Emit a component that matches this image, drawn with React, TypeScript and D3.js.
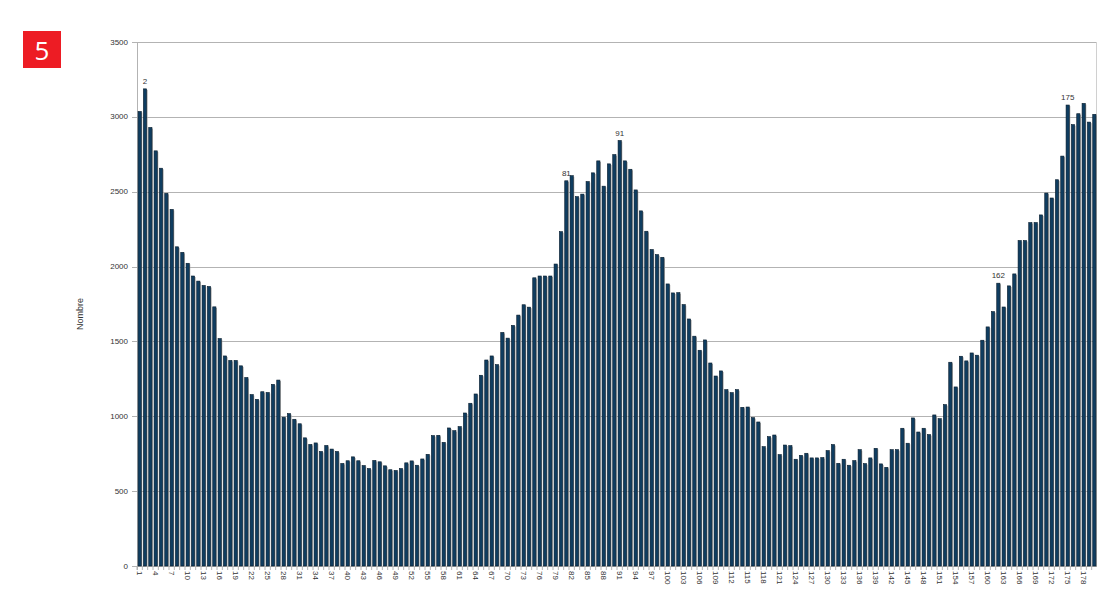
import React from "react";
import * as d3 from "d3";

const values: number[] = [
  3036, 3187, 2929, 2773, 2657, 2489, 2382, 2132, 2095, 2022,
  1937, 1903, 1874, 1867, 1731, 1519, 1403, 1373, 1373, 1337,
  1259, 1145, 1113, 1164, 1159, 1213, 1242, 994, 1018, 980,
  950, 856, 812, 822, 765, 805, 781, 765, 685, 703,
  729, 703, 671, 651, 705, 696, 669, 643, 638, 651,
  689, 702, 673, 715, 746, 871, 873, 826, 922, 904,
  931, 1022, 1087, 1149, 1274, 1376, 1403, 1345, 1560, 1522,
  1607, 1676, 1745, 1729, 1925, 1937, 1937, 1937, 2017, 2233,
  2573, 2607, 2467, 2484, 2568, 2626, 2706, 2537, 2686, 2748,
  2842, 2706, 2650, 2512, 2372, 2236, 2114, 2080, 2062, 1884,
  1824, 1826, 1746, 1650, 1535, 1441, 1510, 1356, 1269, 1303,
  1178, 1158, 1178, 1060, 1062, 991, 962, 797, 864, 875,
  744, 808, 804, 713, 739, 753, 722, 722, 724, 771,
  811, 686, 713, 673, 704, 777, 684, 722, 786, 682,
  659, 777, 777, 920, 820, 989, 895, 920, 878, 1009,
  984, 1078, 1361, 1196, 1401, 1370, 1423, 1408, 1508, 1597,
  1699, 1889, 1730, 1871, 1951, 2174, 2174, 2294, 2294, 2345,
  2491, 2458, 2580, 2738, 3079, 2948, 3021, 3090, 2965, 3017,
];
const categories: number[] = values.map((_, i) => i + 1);
const labeledBars: number[] = [2, 81, 91, 162, 175];
const yTicks: number[] = [0, 500, 1000, 1500, 2000, 2500, 3000, 3500];
const xTickLabels: number[] = categories.filter((c) => (c - 1) % 3 === 0);
const yTitle = "Nombre";
const badge = "5";

export default function App() {
  const W = 1099, H = 611;
  const left = 137, right = 1097, top = 42, bottom = 566;
  const x = d3
    .scaleBand<number>()
    .domain(categories)
    .range([left, right])
    .paddingInner(0.4)
    .paddingOuter(0.2);
  const y = d3.scaleLinear().domain([0, 3500]).range([bottom, top]);
  const bw = x.bandwidth();
  const step = x.step();
  const font = "'Liberation Sans', Arial, sans-serif";

  return (
    <svg
      width={W}
      height={H}
      style={{ position: "absolute", left: 0, top: 0, background: "#fff" }}
    >
      <rect x={23} y={31} width={38} height={37} fill="#ed1c24" />
      <text
        x={42}
        y={50}
        fill="#fff"
        fontSize={26}
        fontFamily="'Open Sans', 'DejaVu Sans', sans-serif"
        textAnchor="middle"
        dominantBaseline="central"
      >
        {badge}
      </text>

      {yTicks.map((t) => (
        <g key={t}>
          <line
            x1={left - 5}
            x2={right}
            y1={Math.round(y(t)) + 0.5}
            y2={Math.round(y(t)) + 0.5}
            stroke="#b3b3b3"
            strokeWidth={1}
          />
          <text
            x={128}
            y={y(t)}
            fontSize={8}
            fontFamily={font}
            fill="#333"
            textAnchor="end"
            dominantBaseline="central"
          >
            {t}
          </text>
        </g>
      ))}
      <line x1={left + 0.5} x2={left + 0.5} y1={top} y2={bottom + 4} stroke="#b3b3b3" />
      <line x1={right - 0.5} x2={right - 0.5} y1={top} y2={bottom} stroke="#d0d0d0" />

      {categories.map((c) => (
        <line
          key={"t" + c}
          x1={(x(c) as number) - (step - bw) / 2}
          x2={(x(c) as number) - (step - bw) / 2}
          y1={bottom}
          y2={bottom + 4}
          stroke="#b3b3b3"
        />
      ))}

      {values.map((v, i) => {
        const c = categories[i];
        const bx = x(c) as number;
        return (
          <g key={c}>
            <rect
              x={bx + bw}
              y={y(v) + 1}
              width={1}
              height={bottom - y(v) - 1}
              fill="#a6a6a6"
            />
            <rect
              x={bx}
              y={y(v)}
              width={bw}
              height={bottom - y(v)}
              fill="#0f3d60"
              stroke="#061a2a"
              strokeWidth={0.6}
            />
          </g>
        );
      })}

      {labeledBars.map((c) => (
        <text
          key={"l" + c}
          x={(x(c) as number) + bw / 2}
          y={y(values[c - 1]) - 5}
          fontSize={8}
          fontFamily={font}
          fill="#333"
          textAnchor="middle"
        >
          {c}
        </text>
      ))}

      {xTickLabels.map((c) => (
        <text
          key={"x" + c}
          transform={`translate(${(x(c) as number) + bw / 2},${bottom + 5}) rotate(90)`}
          fontSize={8}
          fontFamily={font}
          fill="#333"
          textAnchor="start"
          dominantBaseline="central"
        >
          {c}
        </text>
      ))}

      <text
        transform={`translate(80,${(top + bottom) / 2 + 10}) rotate(-90)`}
        fontSize={9}
        fontFamily={font}
        fill="#333"
        textAnchor="middle"
        dominantBaseline="central"
      >
        {yTitle}
      </text>
    </svg>
  );
}
